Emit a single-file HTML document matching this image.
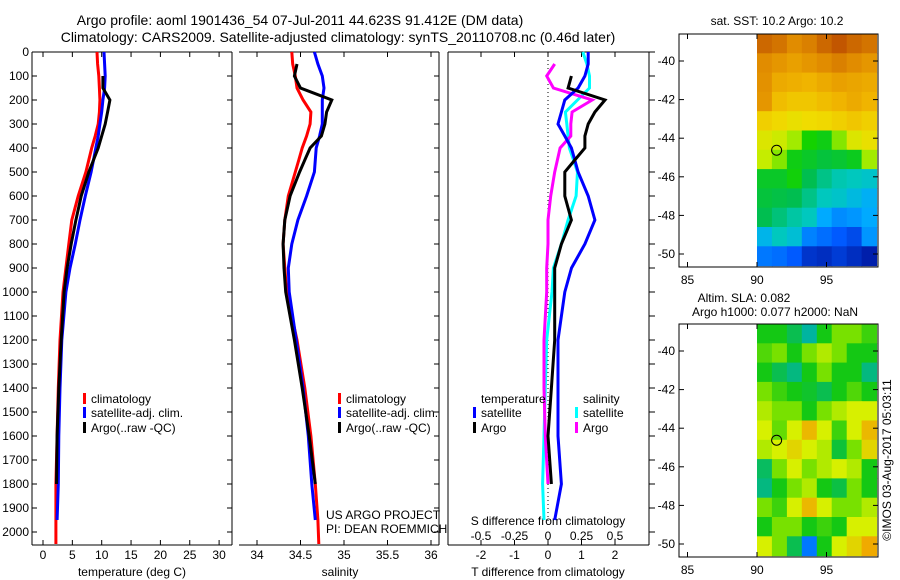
<!DOCTYPE html>
<html><head><meta charset="utf-8">
<style>
html,body{margin:0;padding:0;background:#fff;}
svg{display:block;font-family:"Liberation Sans",sans-serif;}
text{font-size:12px;fill:#000;}
</style></head>
<body>
<svg id="c" width="900" height="580" viewBox="0 0 900 580">
<text x="300" y="25" text-anchor="middle" style="font-size:14px">Argo profile: aoml 1901436_54 07-Jul-2011 44.623S 91.412E (DM data)</text>
<text x="338" y="42" text-anchor="middle" style="font-size:14px">Climatology: CARS2009. Satellite-adjusted climatology: synTS_20110708.nc (0.46d later)</text>
<g id="g"></g>
</svg>
<script>
// ---- profile data ----
const depths = [0,50,100,150,200,250,300,350,400,450,500,600,700,800,900,1000,1200,1400,1600,1800,1950,2050];
const tempClim = [9.2,9.3,9.5,9.6,9.7,9.6,9.4,8.9,8.3,7.8,7.3,6.0,4.9,4.4,3.9,3.4,2.9,2.6,2.4,2.2,2.2,2.2];
const tempSat  = [10.4,10.5,10.6,10.5,10.2,10.0,9.7,9.4,9.0,8.6,8.2,7.2,6.3,5.5,4.6,3.9,3.2,2.9,2.7,2.6,2.4,null];
const tempArgo = [null,null,10.2,10.2,11.4,11.0,10.6,10.0,9.4,8.6,7.8,6.5,5.6,4.8,4.1,3.6,3.1,2.7,2.4,2.3,null,null];
const salClim = [34.40,34.41,34.44,34.46,34.53,34.62,34.61,34.57,34.52,34.48,34.44,34.36,34.32,34.30,34.32,34.34,34.46,34.55,34.62,34.67,34.70,34.71];
const salSat  = [34.66,34.70,34.75,34.77,34.75,34.75,34.75,34.72,34.68,34.67,34.66,34.57,34.47,34.40,34.36,34.37,34.45,34.53,34.59,34.63,34.67,null];
const salArgo = [null,34.46,34.43,34.50,34.86,34.80,34.78,34.74,34.61,34.55,34.49,34.38,34.32,34.30,34.31,34.33,34.43,34.52,34.60,34.67,null,null];
const depthTicks = [0,100,200,300,400,500,600,700,800,900,1000,1100,1200,1300,1400,1500,1600,1700,1800,1900,2000];
const tempTicks = [0,5,10,15,20,25,30];
const salTicks = [34,34.5,35,35.5,36];
const tdTicks = [-2,-1,0,1,2];
const sdTicks = [-0.5,-0.25,0,0.25,0.5];
const sdLabels = ["-0.5","-0.25","0","0.25","0.5"];
// ---- map data (8 cols x 12 rows, lon 90..98.6, lat -38.6..-50.6) ----
const sstGrid = [
[13.6,13.4,13.0,13.2,13.6,13.9,13.6,13.4],
[13.0,12.8,12.6,12.8,13.0,13.2,13.0,12.8],
[12.9,12.4,12.3,12.2,12.4,12.6,12.5,12.4],
[12.8,12.0,11.8,11.8,12.0,12.2,12.4,12.2],
[11.6,11.4,11.2,11.3,11.4,11.6,11.8,11.6],
[11.0,10.8,10.5,10.0,9.8,10.4,11.0,11.2],
[10.7,10.4,9.8,9.6,9.4,9.5,9.7,10.5],
[9.6,9.6,9.9,9.2,8.8,8.5,8.4,8.3],
[9.4,9.3,9.2,8.8,8.4,8.3,8.1,7.9],
[9.2,8.9,8.6,8.4,7.8,7.5,7.6,7.8],
[8.0,8.4,8.2,7.4,7.2,7.0,6.8,7.6],
[7.3,7.2,7.0,6.5,6.4,6.6,6.4,6.2]];
const slaGrid = [
[0.00,0.00,-0.05,-0.10,0.00,0.05,0.05,0.02],
[0.03,0.05,0.00,0.05,0.08,0.05,0.00,0.00],
[0.00,-0.05,-0.08,0.00,0.05,0.00,0.00,-0.08],
[0.05,0.02,0.00,-0.02,-0.05,0.00,0.03,0.00],
[0.08,0.05,0.05,0.00,0.05,0.08,0.10,0.10],
[0.10,0.04,0.10,0.14,0.10,0.02,0.10,0.14],
[0.08,0.10,0.12,0.10,0.08,-0.03,0.05,0.12],
[-0.06,0.05,0.10,0.05,0.08,0.10,0.08,0.00],
[-0.08,0.00,0.05,0.08,0.00,-0.04,0.05,0.00],
[0.05,0.02,0.10,0.14,0.10,0.05,0.05,0.08],
[0.00,0.05,0.05,0.00,0.02,0.00,0.10,0.10],
[0.10,0.05,-0.05,-0.15,0.00,0.10,0.12,0.15]];
const latTicks = [-40,-42,-44,-46,-48,-50];
const lonTicks = [85,90,95];
const argoLon = 91.412, argoLat = -44.623;

const NS="http://www.w3.org/2000/svg";
const G=document.getElementById('g');
function el(t,a,p){const e=document.createElementNS(NS,t);for(const k in a)e.setAttribute(k,a[k]);(p||G).appendChild(e);return e;}
function txt(x,y,s,anchor){const e=el('text',{x:x,y:y,'text-anchor':anchor||'start'});e.textContent=s;return e;}

const yTop=52, yBot=545;
const yD = d => 52 + d*0.24;
const xT = t => 43 + t*5.87;
const xS = s => 257 + (s-34)*87;
const xTD = d => 548 + d*33.5;
const xSD = d => 548 + d*134;

function line(xs, xf, color, name){
  let pts=[];
  const segs=[];
  xs.forEach((v,i)=>{ if(v===null){ if(pts.length){segs.push(pts);pts=[];} } else pts.push(xf(v).toFixed(1)+','+yD(depths[i]).toFixed(1)); });
  if(pts.length) segs.push(pts);
  segs.forEach(s=>{
    const p=el('polyline',{points:s.join(' '),fill:'none',stroke:color,'stroke-width':3});
    
    
  });
}
function diff(a,b){return a.map((v,i)=>(v===null||b[i]===null)?null:v-b[i]);}

function depthTickMarks(x0,x1){
  depthTicks.forEach(d=>{
    el('line',{x1:x0,y1:yD(d),x2:x0+5,y2:yD(d),stroke:'#000'});
    el('line',{x1:x1,y1:yD(d),x2:x1-5,y2:yD(d),stroke:'#000'});
  });
}

// Panel 1 temperature
el('line',{x1:32,y1:yTop,x2:32,y2:yBot,stroke:'#000'});
el('line',{x1:232,y1:yTop,x2:232,y2:yBot,stroke:'#000'});
el('line',{x1:32,y1:yTop,x2:232,y2:yTop,stroke:'#000'});
el('line',{x1:32,y1:yBot,x2:232,y2:yBot,stroke:'#000'});
depthTickMarks(32,232);
depthTicks.forEach(d=>{const t=txt(29,yD(d)+4,String(d),'end');});
tempTicks.forEach(t=>{el('line',{x1:xT(t),y1:yBot,x2:xT(t),y2:yBot-5,stroke:'#000'});el('line',{x1:xT(t),y1:yTop,x2:xT(t),y2:yTop+5,stroke:'#000'});const e=txt(xT(t),559,String(t),'middle');});
line(tempClim,xT,'#ff0000','temp-climatology-line');
line(tempSat,xT,'#0000ff','temp-satellite-line');
line(tempArgo,xT,'#000000','temp-argo-line');
txt(132,576,'temperature (deg C)','middle');

// Panel 2 salinity
el('line',{x1:439,y1:yTop,x2:439,y2:yBot,stroke:'#000'});
el('line',{x1:239,y1:yTop,x2:439,y2:yTop,stroke:'#000'});
el('line',{x1:239,y1:yBot,x2:439,y2:yBot,stroke:'#000'});
depthTicks.forEach(d=>el('line',{x1:439,y1:yD(d),x2:434,y2:yD(d),stroke:'#000'}));
salTicks.forEach(s=>{el('line',{x1:xS(s),y1:yBot,x2:xS(s),y2:yBot-5,stroke:'#000'});el('line',{x1:xS(s),y1:yTop,x2:xS(s),y2:yTop+5,stroke:'#000'});const e=txt(xS(s),559,String(s),'middle');});
line(salClim,xS,'#ff0000','sal-climatology-line');
line(salSat,xS,'#0000ff','sal-satellite-line');
line(salArgo,xS,'#000000','sal-argo-line');
txt(340,576,'salinity','middle');
txt(326,519,'US ARGO PROJECT');
txt(326,533,'PI: DEAN ROEMMICH');

// Panel 3 differences
el('line',{x1:448,y1:yTop,x2:448,y2:yBot,stroke:'#000'});
el('line',{x1:649,y1:yTop,x2:649,y2:yBot,stroke:'#000'});
el('line',{x1:448,y1:yTop,x2:649,y2:yTop,stroke:'#000'});
el('line',{x1:448,y1:yBot,x2:649,y2:yBot,stroke:'#000'});
depthTicks.forEach(d=>el('line',{x1:649,y1:yD(d),x2:655,y2:yD(d),stroke:'#000'}));
el('line',{x1:548,y1:yTop,x2:548,y2:yBot-20,stroke:'#000','stroke-dasharray':'1,3'});
tdTicks.forEach(t=>{el('line',{x1:xTD(t),y1:yBot,x2:xTD(t),y2:yBot-5,stroke:'#000'});el('line',{x1:xTD(t),y1:yTop,x2:xTD(t),y2:yTop+5,stroke:'#000'});const e=txt(xTD(t),559,String(t),'middle');});
sdTicks.forEach((s,i)=>{const e=txt(xSD(s),540,sdLabels[i],'middle');});
txt(548,525,'S difference from climatology','middle');
txt(548,576,'T difference from climatology','middle');
line(diff(salSat,salClim),xSD,'#00ffff','sdiff-satellite-line');
line(diff(salArgo,salClim),xSD,'#ff00ff','sdiff-argo-line');
line(diff(tempSat,tempClim),xTD,'#0000ff','tdiff-satellite-line');
line(diff(tempArgo,tempClim),xTD,'#000000','tdiff-argo-line');

// legends
function leg(x,y,color,label,name){
  el('rect',{x:x,y:y-10,width:3,height:11,fill:color});
  const t=txt(x+8,y,label);  
}
leg(83,403,'#ff0000','climatology','legend-climatology');
leg(83,417,'#0000ff','satellite-adj. clim.','legend-satellite');
leg(83,432,'#000000','Argo(..raw -QC)','legend-argo');
leg(338,403,'#ff0000','climatology','legend2-climatology');
leg(338,417,'#0000ff','satellite-adj. clim.','legend2-satellite');
leg(338,432,'#000000','Argo(..raw -QC)','legend2-argo');
txt(481,403,'temperature');
leg(473,417,'#0000ff','satellite','legend-t-satellite');
leg(473,432,'#000000','Argo','legend-t-argo');
txt(583,403,'salinity');
leg(575,417,'#00ffff','satellite','legend-s-satellite');
leg(575,432,'#ff00ff','Argo','legend-s-argo');

// ---- maps ----
function rgb(c){return 'rgb('+c.join(',')+')';}
function lerpCol(stops,v){
  if(v<=stops[0][0])return rgb(stops[0][1]);
  for(let i=1;i<stops.length;i++){if(v<=stops[i][0]){const a=stops[i-1],b=stops[i],f=(v-a[0])/(b[0]-a[0]);return rgb([0,1,2].map(k=>Math.round(a[1][k]+(b[1][k]-a[1][k])*f)));}}
  return rgb(stops[stops.length-1][1]);
}
const sstStops=[[6,[0,16,150]],[7,[0,90,255]],[7.8,[0,170,255]],[8.4,[0,200,190]],[9.2,[0,190,80]],[10,[20,210,0]],[10.6,[190,240,0]],[11.3,[240,220,0]],[12.2,[240,180,0]],[13,[225,140,0]],[14,[190,80,0]]];
const slaStops=[[-0.15,[0,120,255]],[-0.1,[0,180,160]],[-0.05,[10,190,80]],[0,[20,200,20]],[0.05,[120,225,0]],[0.1,[215,240,0]],[0.15,[240,170,0]]];
const mx = lon => 757 + (lon-90)*13.9;
function drawMap(y0,y1,latY,grid,stops,name){
  const my = lat => latY + (-40-lat)*19.3;
  const rows=grid.length, cols=grid[0].length;
  const lonStep=(98.6-90)/cols, latStep=12/rows;
  grid.forEach((row,r)=>row.forEach((v,c)=>{
    const x0=mx(90+c*lonStep), x1=mx(90+(c+1)*lonStep);
    const ya=my(-38.6-r*latStep), yb=my(-38.6-(r+1)*latStep);
    const cell=el('rect',{x:x0.toFixed(1),y:Math.max(ya,y0).toFixed(1),width:(x1-x0+0.6).toFixed(1),height:(Math.min(yb,y1)-Math.max(ya,y0)+0.6).toFixed(1),fill:lerpCol(stops,v)});
    
    
  }));
  el('rect',{x:679,y:y0,width:199,height:y1-y0,fill:'none',stroke:'#000'});
  latTicks.forEach(l=>{el('line',{x1:679,y1:my(l),x2:684,y2:my(l),stroke:'#000'});el('line',{x1:878,y1:my(l),x2:873,y2:my(l),stroke:'#000'});const t=txt(675,my(l)+4,String(l),'end');});
  lonTicks.forEach(l=>{el('line',{x1:mx(l),y1:y1,x2:mx(l),y2:y1-5,stroke:'#000'});el('line',{x1:mx(l),y1:y0,x2:mx(l),y2:y0+5,stroke:'#000'});const t=txt(mx(l),y1+17,String(l),'middle');});
  const c=el('circle',{cx:mx(argoLon),cy:my(argoLat),r:5,fill:'none',stroke:'#000'});
  
  
}
drawMap(34,267,61,sstGrid,sstStops,'sst-map');
drawMap(324,557,351,slaGrid,slaStops,'sla-map');
txt(777,25,'sat. SST: 10.2 Argo: 10.2','middle');
txt(744,302,'Altim. SLA: 0.082','middle');
txt(775,316,'Argo h1000: 0.077 h2000: NaN','middle');
const cr=txt(0,0,'©IMOS 03-Aug-2017 05:03:11','middle');
cr.setAttribute('transform','translate(891,460) rotate(-90)');


</script>
</body></html>
